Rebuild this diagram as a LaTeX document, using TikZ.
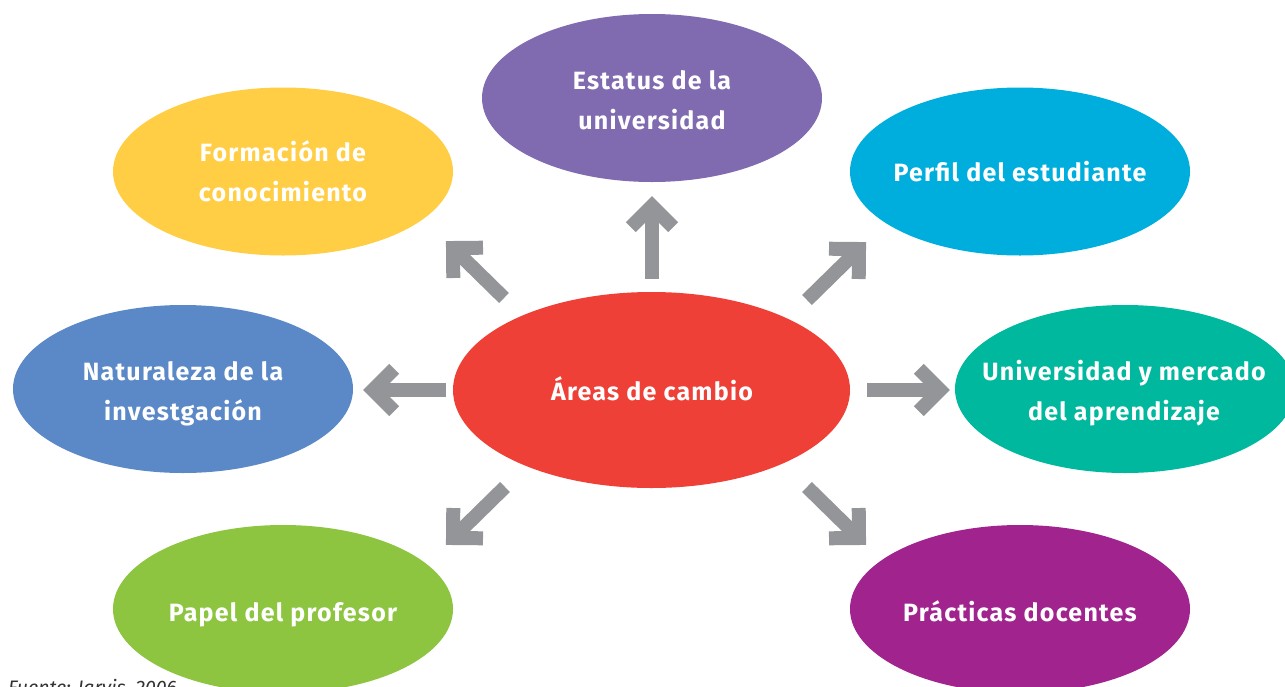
\documentclass[tikz,border=0pt]{standalone}
\usepackage{fontspec}
\setmainfont{Fira Sans}
\usetikzlibrary{calc}
\definecolor{cYellow}{HTML}{FFCE44}
\definecolor{cPurple}{HTML}{806AB0}
\definecolor{cCyan}{HTML}{00AEDE}
\definecolor{cBlue}{HTML}{5B88C6}
\definecolor{cRed}{HTML}{EE4036}
\definecolor{cTeal}{HTML}{00B89D}
\definecolor{cGreen}{HTML}{8DC541}
\definecolor{cMagenta}{HTML}{A1238E}
\definecolor{cGray}{HTML}{939598}
\definecolor{cNote}{HTML}{333333}
\begin{document}
\begin{tikzpicture}[x=1pt,y=-1pt,
  arr/.style={draw=cGray, line width=14pt, line join=miter, line cap=butt, miter limit=10},
  lbl/.style={text=white, font=\fontsize{25}{40}\selectfont\bfseries\addfontfeatures{LetterSpace=5}, align=center, inner sep=0pt},
]
\useasboundingbox (0,0) rectangle (1285,686);
\clip (0,0) rectangle (1285,686);
% ellipses
\fill[cYellow]  (283,171.5) ellipse [x radius=170, y radius=84];
\fill[cPurple]  (652,98)    ellipse [x radius=170, y radius=84];
\fill[cCyan]    (1020,171.5) ellipse [x radius=170, y radius=84];
\fill[cBlue]    (183,389)   ellipse [x radius=170, y radius=84];
\fill[cRed]     (651.5,390) ellipse [x radius=198.5, y radius=98];
\fill[cTeal]    (1125,389)  ellipse [x radius=170, y radius=84];
\fill[cGreen]   (283,609)   ellipse [x radius=170, y radius=84];
\fill[cMagenta] (1020,609)  ellipse [x radius=170, y radius=84];
% labels
\node[lbl] (yel) at (283,171.5) {Formación de\\conocimiento};
\node[lbl] (pur) at (652,100) {Estatus de la\\universidad};
\node[lbl, anchor=base] (cya) at (1020,181) {Perfil del estudiante};
\node[lbl] (blu) at (183,393.5) {Naturaleza de la\\investgación};
\node[lbl, anchor=base] (red) at (652,400) {Áreas de cambio};
\node[lbl] (tea) at (1124,393) {Universidad y mercado\\del aprendizaje};
\node[lbl, anchor=base] (gre) at (283,621) {Papel del profesor};
\node[lbl, anchor=base] (mag) at (1020,621) {Prácticas docentes};
% arrow coordinates
\coordinate (tU) at (652,279);   \coordinate (hU) at (652,206);
\coordinate (tUL) at (504,298);  \coordinate (hUL) at (453,248);
\coordinate (tUR) at (807,300);  \coordinate (hUR) at (859,249);
\coordinate (tL) at (446,390);   \coordinate (hL) at (373,390);
\coordinate (tR) at (867,390);   \coordinate (hR) at (940,390);
\coordinate (tDL) at (505,487);  \coordinate (hDL) at (453,538);
\coordinate (tDR) at (807,487);  \coordinate (hDR) at (859,538);
\foreach \t/\h in {tU/hU,tUL/hUL,tUR/hUR,tL/hL,tR/hR,tDL/hDL,tDR/hDR}{
  \draw[arr] (\t) -- (\h);
  \draw[arr] ($(\h)!30pt!45:(\t)$) -- (\h) -- ($(\h)!30pt!-45:(\t)$);
}
% source note
\node[anchor=base west, inner sep=0pt, text=cNote, font=\fontsize{19.5}{22}\selectfont\itshape] (src) at (8,694) {Fuente: Jarvis, 2006};
\end{tikzpicture}
\end{document}
